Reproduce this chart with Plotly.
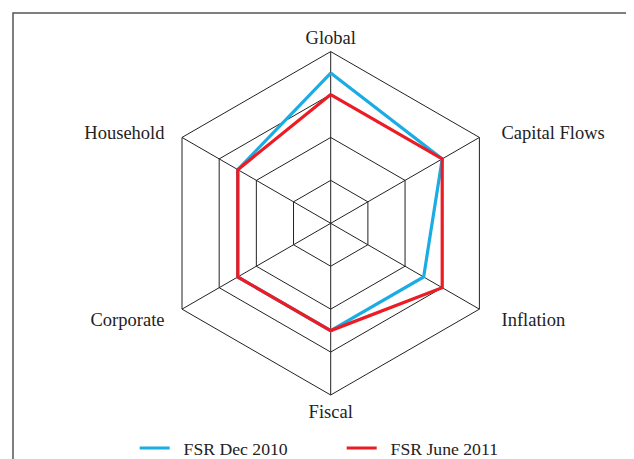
import plotly.graph_objects as go

# risk dimensions, clockwise from the top
categories = ["Global", "Capital Flows", "Inflation", "Fiscal", "Corporate", "Household"]
dec_2010 = [3.5, 3, 2.5, 2.5, 2.5, 2.5]
june_2011 = [3, 3, 3, 2.5, 2.5, 2.5]

# page body has an 8px margin, so work in figure pixels = window pixels - 8
W, H = 634, 459
cx, cy, R = 322.7, 215.3, 171.7

# close the polygons
theta = categories + categories[:1]

# pad the side labels a little further away from the hexagon
nb = "\u00a0"
tick_text = ["Global", nb * 4 + "Capital Flows", nb * 4 + "Inflation", "Fiscal",
             "Corporate" + nb * 3, "Household" + nb * 3]

fig = go.Figure()
fig.add_trace(go.Scatterpolar(r=dec_2010 + dec_2010[:1], theta=theta, mode="lines",
                              name=nb * 2 + "FSR Dec 2010", line=dict(color="#1aade4", width=3.2)))
fig.add_trace(go.Scatterpolar(r=june_2011 + june_2011[:1], theta=theta, mode="lines",
                              name=nb * 2 + "FSR June 2011", line=dict(color="#ec1c24", width=3.2)))

fig.update_layout(
    width=W, height=H,
    margin=dict(l=0, r=0, t=0, b=0),
    paper_bgcolor="white",
    font=dict(family="Liberation Serif", size=18.5, color="#222"),
    polar=dict(
        domain=dict(x=[(cx - R) / W, (cx + R) / W], y=[(H - cy - R) / H, (H - cy + R) / H]),
        gridshape="linear",
        bgcolor="white",
        radialaxis=dict(range=[0, 4], dtick=1, showticklabels=False, ticks="",
                        showline=False, gridcolor="#222", gridwidth=1),
        angularaxis=dict(direction="clockwise", rotation=90, ticks="",
                         tickmode="array", tickvals=categories, ticktext=tick_text,
                         showline=True, linecolor="#222", linewidth=1,
                         gridcolor="#222", gridwidth=1),
    ),
    legend=dict(orientation="h", x=126.7 / W, xanchor="left", y=0, yanchor="bottom",
                font=dict(size=17.7), entrywidth=162),
    showlegend=True,
)

# frame around the chart (runs off the right and bottom edges)
fig.add_shape(type="rect", xref="paper", yref="paper",
              x0=5 / W, x1=1.2, y0=-0.2, y1=1 - 5 / H,
              line=dict(color="#555", width=1.5))

fig.write_html("out.html")
